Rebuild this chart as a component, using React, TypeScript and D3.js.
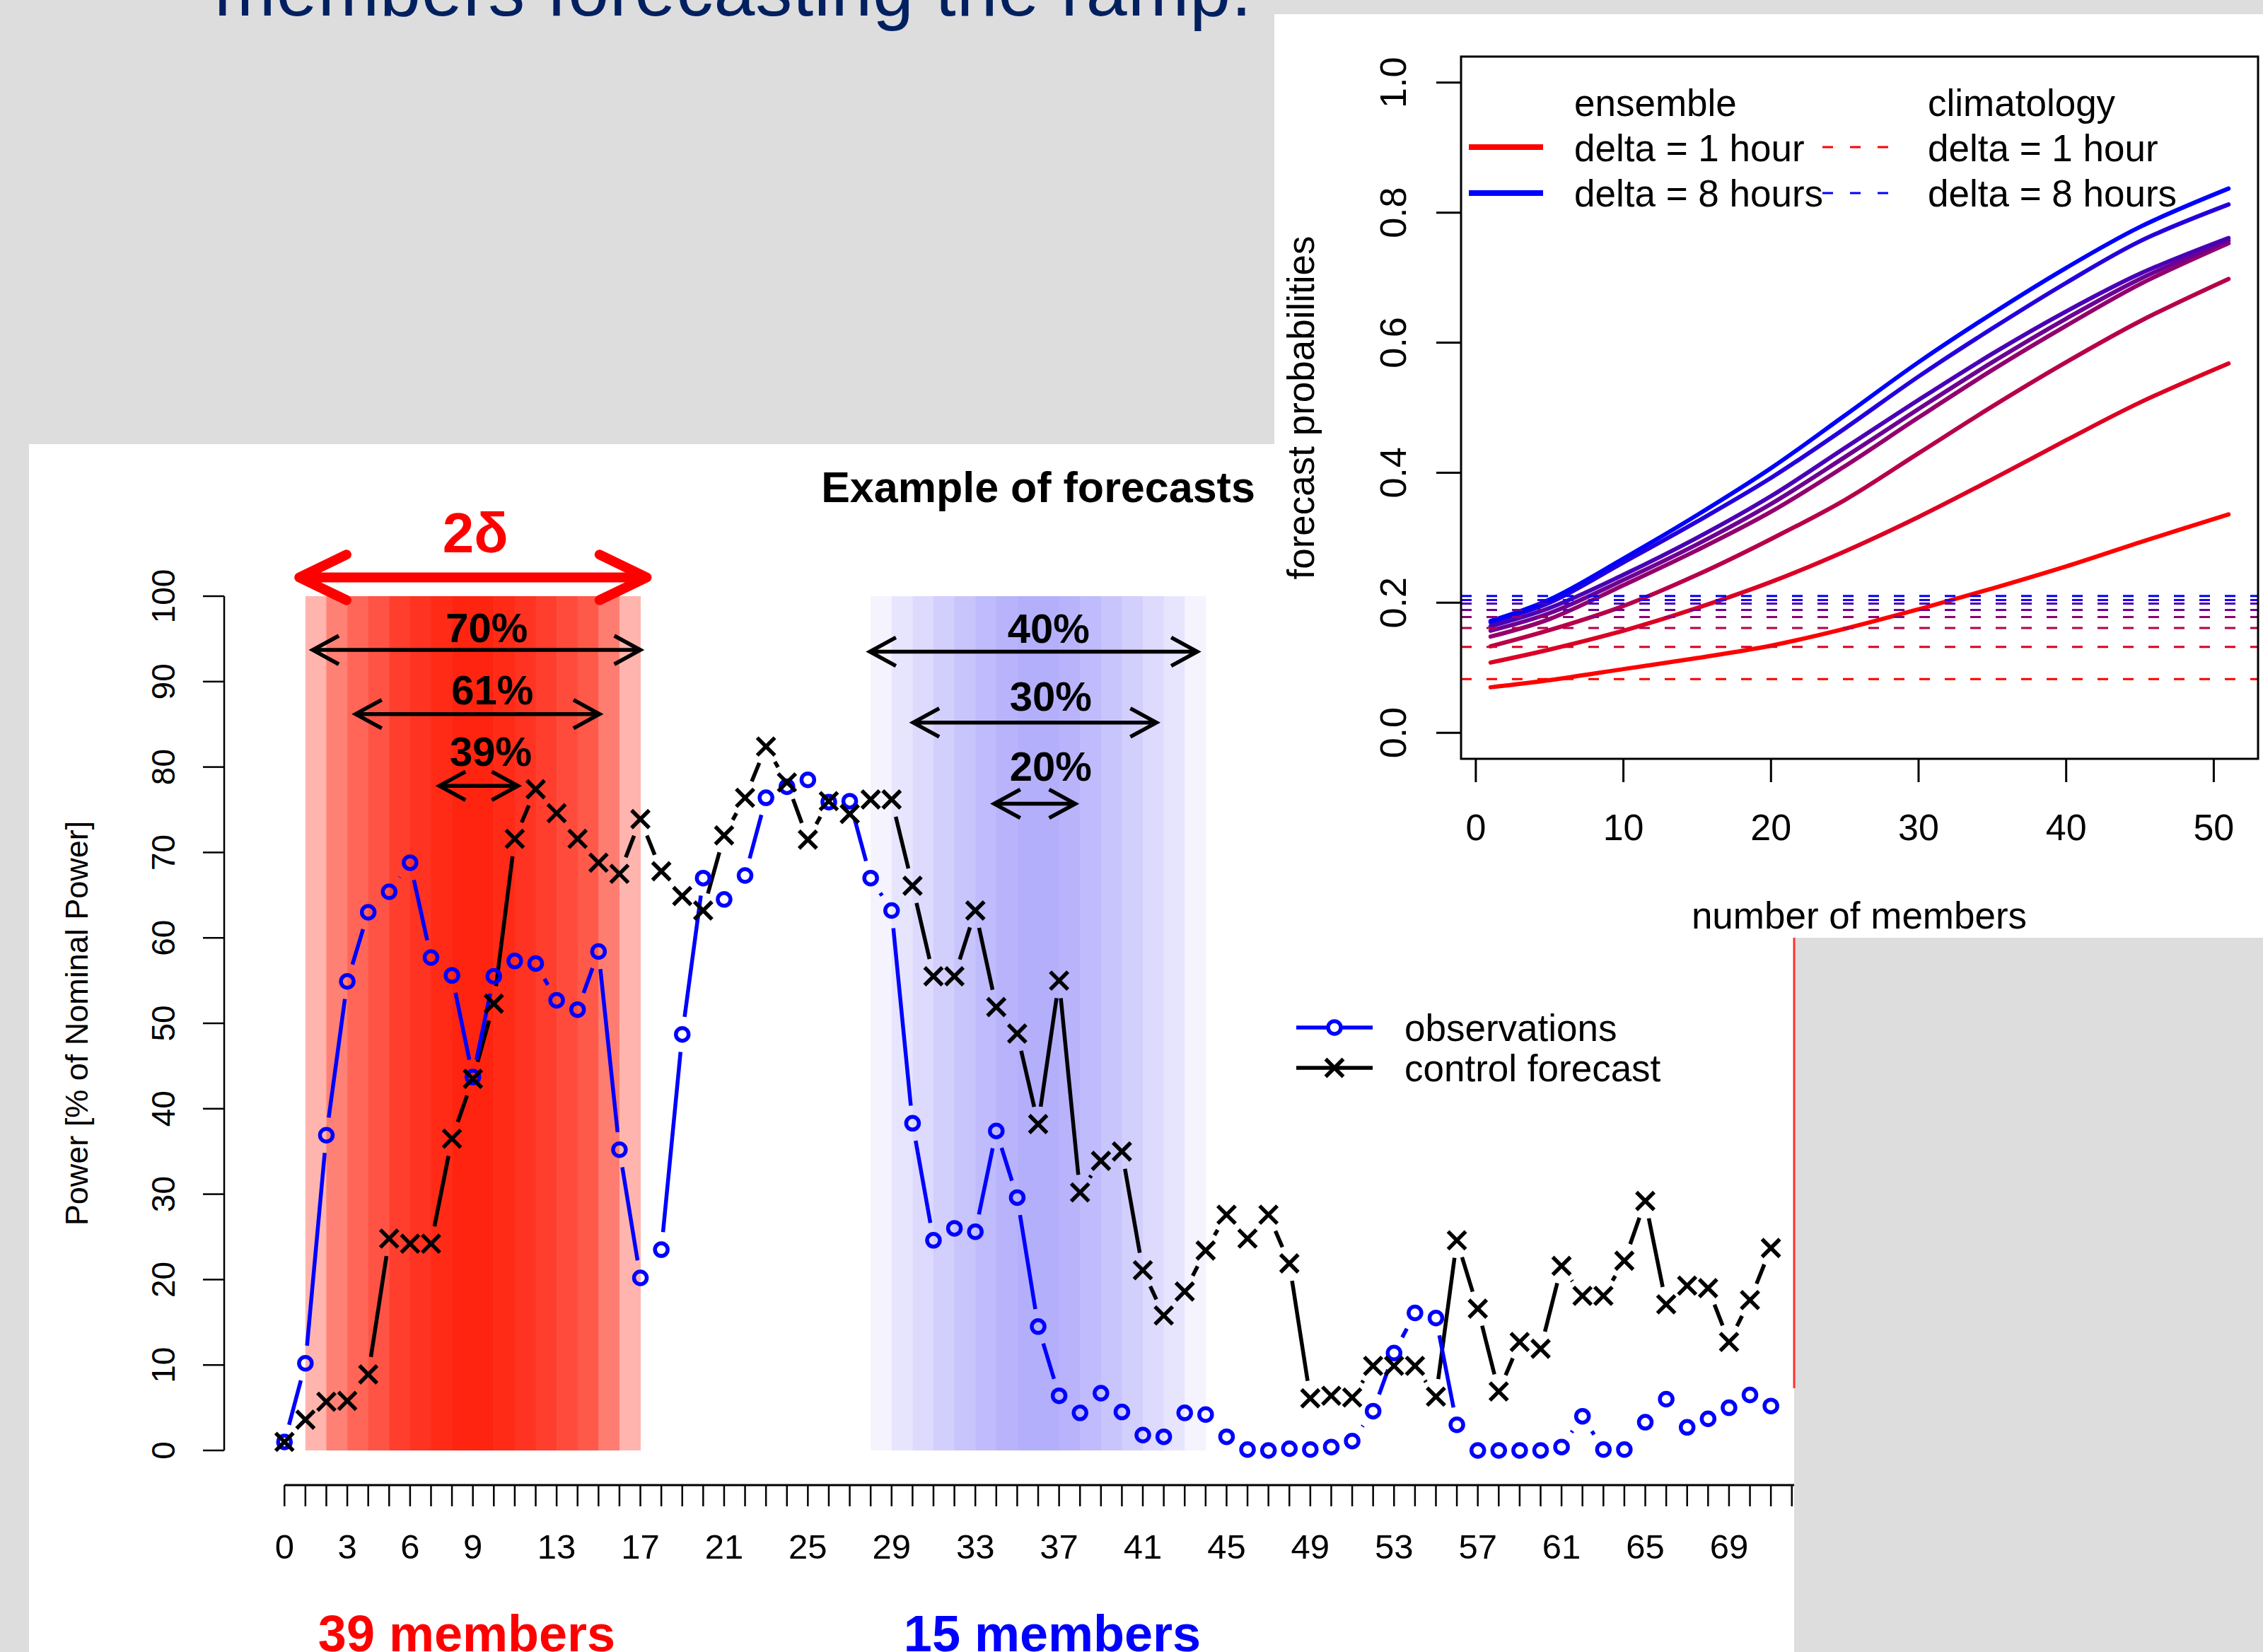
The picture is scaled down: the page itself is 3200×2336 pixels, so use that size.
import React from 'react';
import * as d3 from 'd3';

// hourly power, % of nominal power, steps 0..71
const observations = [
  1.0, 10.2, 36.9, 54.9, 63.0, 65.4, 68.8, 57.7, 55.6, 43.7,
  55.5, 57.3, 57.0, 52.7, 51.6, 58.4, 35.2, 20.2, 23.5, 48.7,
  67.0, 64.5, 67.3, 76.4, 77.7, 78.5, 75.9, 76.0, 67.0, 63.2,
  38.3, 24.6, 26.0, 25.6, 37.4, 29.6, 14.5, 6.4, 4.4, 6.7,
  4.5, 1.8, 1.6, 4.4, 4.2, 1.6, 0.1, 0.0, 0.2, 0.1,
  0.4, 1.1, 4.6, 11.4, 16.1, 15.5, 3.0, 0.0, 0.0, 0.0,
  0.0, 0.4, 4.0, 0.1, 0.1, 3.3, 6.0, 2.7, 3.7, 5.0,
  6.5, 5.2,
];
const controlForecast = [
  1.0, 3.6, 5.7, 5.8, 8.9, 24.8, 24.2, 24.2, 36.5, 43.5,
  52.3, 71.6, 77.4, 74.6, 71.6, 68.8, 67.5, 73.9, 67.8, 64.9,
  63.2, 72.0, 76.4, 82.4, 78.2, 71.5, 76.0, 74.5, 76.2, 76.2,
  66.1, 55.5, 55.5, 63.2, 51.9, 48.8, 38.2, 55.0, 30.2, 33.9,
  35.0, 21.1, 15.8, 18.6, 23.4, 27.6, 24.8, 27.6, 21.9, 6.1,
  6.4, 6.2, 9.9, 9.9, 9.9, 6.3, 24.6, 16.6, 6.9, 12.7,
  11.9, 21.6, 18.1, 18.1, 22.2, 29.2, 17.1, 19.3, 19.0, 12.7,
  17.6, 23.7,
];

// share of members per hour inside the two ramp windows (0..1)
const redStart = 1;
const redShares = [0.34, 0.58, 0.7, 0.78, 0.88, 0.93, 0.97, 1, 1, 0.97, 0.93, 0.88, 0.82, 0.76, 0.6, 0.34];
const blueStart = 28;
const blueShares = [0.15, 0.325, 0.46, 0.6, 0.74, 0.85, 0.95, 1, 1, 0.95, 0.85, 0.74, 0.6, 0.46, 0.325, 0.15];

const rampArrows = [
  { label: '70%', x1: 1.35, x2: 17.0, y: 93.7, lx: 9.66, ly: 94.6 },
  { label: '61%', x1: 3.4, x2: 15.05, y: 86.2, lx: 9.93, ly: 87.3 },
  { label: '39%', x1: 7.4, x2: 11.15, y: 77.8, lx: 9.86, ly: 80.1 },
  { label: '40%', x1: 27.96, x2: 43.6, y: 93.5, lx: 36.5, ly: 94.5 },
  { label: '30%', x1: 30.03, x2: 41.65, y: 85.2, lx: 36.6, ly: 86.6 },
  { label: '20%', x1: 33.9, x2: 37.77, y: 75.7, lx: 36.6, ly: 78.4 },
];
const deltaArrow = { x1: 0.71, x2: 17.3, y: 102.2, lx: 9.12, ly: 105.1 };

const xTickLabels = [0, 3, 6, 9, 13, 17, 21, 25, 29, 33, 37, 41, 45, 49, 53, 57, 61, 65, 69];
const yTicks = [0, 10, 20, 30, 40, 50, 60, 70, 80, 90, 100];

// inset: forecast probability vs number of members, delta = 1..8 hours
const members = [1, 5, 10, 15, 20, 25, 30, 35, 40, 45, 51];
const ensembleProb = [
  [0.070, 0.081, 0.098, 0.115, 0.134, 0.160, 0.190, 0.222, 0.256, 0.293, 0.336],
  [0.108, 0.128, 0.157, 0.192, 0.232, 0.279, 0.332, 0.390, 0.450, 0.508, 0.568],
  [0.133, 0.158, 0.195, 0.243, 0.298, 0.358, 0.430, 0.502, 0.570, 0.633, 0.698],
  [0.148, 0.175, 0.227, 0.281, 0.340, 0.410, 0.485, 0.558, 0.626, 0.690, 0.753],
  [0.157, 0.184, 0.235, 0.290, 0.352, 0.424, 0.498, 0.570, 0.637, 0.698, 0.757],
  [0.164, 0.192, 0.243, 0.300, 0.364, 0.438, 0.512, 0.583, 0.648, 0.706, 0.761],
  [0.170, 0.200, 0.262, 0.325, 0.392, 0.468, 0.548, 0.622, 0.692, 0.756, 0.8125],
  [0.172, 0.205, 0.268, 0.335, 0.407, 0.488, 0.570, 0.645, 0.715, 0.778, 0.837],
];
const climatologyProb = [0.0827, 0.132, 0.1613, 0.1781, 0.189, 0.1988, 0.2042, 0.2103];
const insetXTicks = [0, 10, 20, 30, 40, 50];
const insetYTicks = [0, 0.2, 0.4, 0.6, 0.8, 1.0];

const FONT = '"Liberation Sans", Arial, Helvetica, sans-serif';

function gappedSegments(pts, gap) {
  const segs = [];
  for (let i = 0; i < pts.length - 1; i++) {
    const [x1, y1] = pts[i];
    const [x2, y2] = pts[i + 1];
    const dx = x2 - x1, dy = y2 - y1;
    const len = Math.hypot(dx, dy);
    if (len <= 2 * gap) continue;
    const ux = dx / len, uy = dy / len;
    segs.push([x1 + ux * gap, y1 + uy * gap, x2 - ux * gap, y2 - uy * gap]);
  }
  return segs;
}

function arrowPath(x1, x2, yy, len, ang) {
  const dx = len * Math.cos(ang), dy = len * Math.sin(ang);
  return `M${x1},${yy}L${x2},${yy}` +
    `M${x1 + dx},${yy - dy}L${x1},${yy}L${x1 + dx},${yy + dy}` +
    `M${x2 - dx},${yy - dy}L${x2},${yy}L${x2 - dx},${yy + dy}`;
}

const crossPath = (cx, cy, s) => `M${cx - s},${cy - s}L${cx + s},${cy + s}M${cx - s},${cy + s}L${cx + s},${cy - s}`;

export default function App() {
  const x = d3.scaleLinear().domain([-2.88, 74.88]).range([317, 2619]);
  const y = d3.scaleLinear().domain([-4, 104]).range([2099.3, 794.7]);

  const redColor = d3.scaleLinear().domain([0, 1]).range(['#ffffff', '#ff2410']).interpolate(d3.interpolateRgb);
  const blueColor = d3.scaleLinear().domain([0, 1]).range(['#ffffff', '#b4affb']).interpolate(d3.interpolateRgb);

  const obsPts = observations.map((v, i) => [x(i), y(v)]);
  const ctrlPts = controlForecast.map((v, i) => [x(i), y(v)]);
  const gap = 25;
  const lw = 5.5;

  const ix = d3.scaleLinear().domain([-1, 53]).range([2066, 3193]);
  const iy = d3.scaleLinear().domain([-0.04, 1.04]).range([1073, 80]);
  const deltaColor = (i) => d3.interpolateRgb('#ff0000', '#0000ff')(i / 7);
  const curve = d3.line().x((d) => ix(d[0])).y((d) => iy(d[1])).curve(d3.curveCatmullRom.alpha(0.5));

  const axisTicks = d3.range(0, 76);

  return (
    <svg width={3200} height={2336} style={{ position: 'absolute', left: 0, top: 0 }} fontFamily={FONT}>
      <defs>
        <clipPath id="mainClip">
          <rect x={41} y={628} width={2496} height={1708} />
        </clipPath>
      </defs>
      <rect x={0} y={0} width={3200} height={2336} fill="#dddddd" />
      <text x={303} y={22} fontSize={104} fill="#002060" textLength={1467}>members forecasting the ramp.</text>

      {/* main chart panel */}
      <rect x={41} y={628} width={2496} height={1708} fill="#ffffff" />
      <g clipPath="url(#mainClip)">
        {redShares.map((s, i) => (
          <rect key={'r' + i} x={x(redStart + i)} width={x(redStart + i + 1) - x(redStart + i) + 0.5}
            y={y(100)} height={y(0) - y(100)} fill={redColor(s)} />
        ))}
        {blueShares.map((s, i) => (
          <rect key={'b' + i} x={x(blueStart + i)} width={x(blueStart + i + 1) - x(blueStart + i) + 0.5}
            y={y(100)} height={y(0) - y(100)} fill={blueColor(s)} />
        ))}

        {/* y axis */}
        <line x1={317} x2={317} y1={y(0)} y2={y(100)} stroke="#000" strokeWidth={2.5} />
        {yTicks.map((t) => (
          <g key={'yt' + t}>
            <line x1={287} x2={317} y1={y(t)} y2={y(t)} stroke="#000" strokeWidth={2.5} />
            <text transform={`translate(231,${y(t)}) rotate(-90)`} textAnchor="middle" dominantBaseline="central" fontSize={46}>{t}</text>
          </g>
        ))}
        <text transform={`translate(124,${(y(0) + y(100)) / 2}) rotate(-90)`} textAnchor="middle" fontSize={45}>Power [% of Nominal Power]</text>

        {/* x axis */}
        <line x1={x(0)} x2={x(75)} y1={2100} y2={2100} stroke="#000" strokeWidth={3} />
        {axisTicks.map((t) => (
          <line key={'xt' + t} x1={x(t)} x2={x(t)} y1={2100} y2={2130} stroke="#000" strokeWidth={2.5} />
        ))}
        {xTickLabels.map((t) => (
          <text key={'xl' + t} x={x(t)} y={2204} textAnchor="middle" fontSize={49}>{t}</text>
        ))}

        <text x={(317 + 2619) / 2} y={710} textAnchor="middle" fontSize={61} fontWeight="bold">Example of forecasts</text>

        {/* series */}
        {gappedSegments(ctrlPts, gap).map((s, i) => (
          <line key={'cs' + i} x1={s[0]} y1={s[1]} x2={s[2]} y2={s[3]} stroke="#000" strokeWidth={lw} />
        ))}
        {gappedSegments(obsPts, gap).map((s, i) => (
          <line key={'os' + i} x1={s[0]} y1={s[1]} x2={s[2]} y2={s[3]} stroke="#0000ff" strokeWidth={lw} />
        ))}
        {obsPts.map((p, i) => (
          <circle key={'o' + i} cx={p[0]} cy={p[1]} r={9} fill="none" stroke="#0000ff" strokeWidth={lw} />
        ))}
        {ctrlPts.map((p, i) => (
          <path key={'c' + i} d={crossPath(p[0], p[1], 12.5)} stroke="#000" strokeWidth={lw} fill="none" />
        ))}

        {/* ramp annotations */}
        <path d={arrowPath(x(deltaArrow.x1), x(deltaArrow.x2), y(deltaArrow.y), 74, 0.45)}
          stroke="#ff0000" strokeWidth={14} fill="none" strokeLinecap="round" strokeLinejoin="round" />
        <text x={x(deltaArrow.lx)} y={y(deltaArrow.ly)} textAnchor="middle" fontSize={80} fontWeight="bold" fill="#ff0000">2δ</text>
        {rampArrows.map((a) => (
          <g key={a.label}>
            <path d={arrowPath(x(a.x1), x(a.x2), y(a.y), 42, 0.5)} stroke="#000" strokeWidth={5.5} fill="none" />
            <text x={x(a.lx)} y={y(a.ly)} textAnchor="middle" fontSize={58} fontWeight="bold">{a.label}</text>
          </g>
        ))}

        {/* legend */}
        <line x1={1833} x2={1941} y1={1453} y2={1453} stroke="#0000ff" strokeWidth={lw} />
        <circle cx={1887} cy={1453} r={9} fill="#ffffff" stroke="#0000ff" strokeWidth={lw} />
        <text x={1986} y={1472} fontSize={53}>observations</text>
        <line x1={1833} x2={1941} y1={1510} y2={1510} stroke="#000" strokeWidth={lw} />
        <path d={crossPath(1887, 1510, 12.5)} stroke="#000" strokeWidth={lw} fill="none" />
        <text x={1986} y={1529} fontSize={53}>control forecast</text>

        <text x={660} y={2335} textAnchor="middle" fontSize={72} fontWeight="bold" fill="#ff0000">39 members</text>
        <text x={1488} y={2335} textAnchor="middle" fontSize={72} fontWeight="bold" fill="#0000ff">15 members</text>
      </g>
      <line x1={2537} x2={2537} y1={1326} y2={1963} stroke="#ff3030" strokeWidth={3} />

      {/* inset panel */}
      <rect x={1802} y={20} width={1398} height={1306} fill="#ffffff" />
      {ensembleProb.map((row, i) => (
        <path key={'ens' + i} d={curve(members.map((m, j) => [m, row[j]]))} fill="none"
          stroke={deltaColor(i)} strokeWidth={6} strokeLinecap="round" />
      ))}
      {climatologyProb.map((p, i) => (
        <line key={'cl' + i} x1={2066} x2={3193} y1={iy(p)} y2={iy(p)} stroke={deltaColor(i)}
          strokeWidth={3} strokeDasharray="15 21" />
      ))}
      <rect x={2066} y={80} width={3193 - 2066} height={1073 - 80} fill="none" stroke="#000" strokeWidth={3} />
      {insetXTicks.map((t) => (
        <g key={'ixt' + t}>
          <line x1={ix(t)} x2={ix(t)} y1={1073} y2={1106} stroke="#000" strokeWidth={3} />
          <text x={ix(t)} y={1188} textAnchor="middle" fontSize={52}>{t}</text>
        </g>
      ))}
      {insetYTicks.map((t) => (
        <g key={'iyt' + t}>
          <line x1={2031} x2={2066} y1={iy(t)} y2={iy(t)} stroke="#000" strokeWidth={3} />
          <text transform={`translate(1970,${iy(t)}) rotate(-90)`} textAnchor="middle" dominantBaseline="central" fontSize={52}>{t.toFixed(1)}</text>
        </g>
      ))}
      <text x={2629} y={1313} textAnchor="middle" fontSize={53}>number of members</text>
      <text transform={`translate(1858,${(80 + 1073) / 2}) rotate(-90)`} textAnchor="middle" fontSize={53}>forecast probabilities</text>

      {/* inset legend */}
      <text x={2226} y={164} fontSize={53}>ensemble</text>
      <text x={2726} y={164} fontSize={53}>climatology</text>
      <line x1={2077} x2={2182} y1={208} y2={208} stroke={deltaColor(0)} strokeWidth={8} />
      <line x1={2077} x2={2182} y1={273} y2={273} stroke={deltaColor(7)} strokeWidth={8} />
      <text x={2226} y={228} fontSize={53}>delta = 1 hour</text>
      <text x={2226} y={292} fontSize={53}>delta = 8 hours</text>
      <line x1={2577} x2={2670} y1={208} y2={208} stroke={deltaColor(0)} strokeWidth={3} strokeDasharray="15 24" />
      <line x1={2577} x2={2670} y1={273} y2={273} stroke={deltaColor(7)} strokeWidth={3} strokeDasharray="15 24" />
      <text x={2726} y={228} fontSize={53}>delta = 1 hour</text>
      <text x={2726} y={292} fontSize={53}>delta = 8 hours</text>
    </svg>
  );
}
